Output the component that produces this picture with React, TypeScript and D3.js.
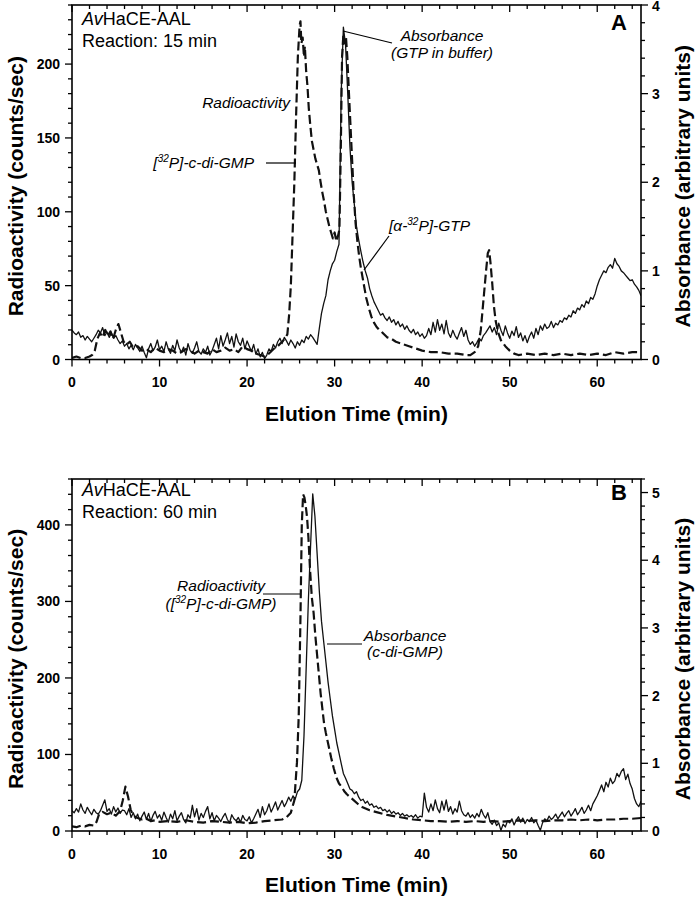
import React from 'react';
import * as d3 from 'd3';

const W = 696;
const H = 900;
const FONT = "'Liberation Sans', Arial, Helvetica, sans-serif";

const timeMajorTicks = [0, 10, 20, 30, 40, 50, 60];
const radioTicksA = [0, 50, 100, 150, 200];
const absTicksA = [0, 1, 2, 3, 4];
const radioTicksB = [0, 100, 200, 300, 400];
const absTicksB = [0, 1, 2, 3, 4, 5];

// Absorbance, panel A (right axis), sampled every 0.25 min from 0 to 65
const absStep = 0.25;
const absA = [
  .33, .30, .28, .31, .25, .27, .22, .26, .23, .20, .24, .28, .33, .30, .36, .27, .31, .25, .30, .24,
  .27, .22, .18, .21, .15, .18, .12, .16, .11, .17, .13, .09, .15, .08, .02, .12, .18, .10, .14, .22,
  .11, .15, .09, .20, .12, .07, .16, .10, .22, .13, .08, .14, .05, .18, .10, .07, .13, .20, .09, .06,
  .12, .08, .15, .05, .10, .17, .24, .12, .27, .15, .22, .30, .18, .26, .14, .29, .20, .16, .24, .12,
  .21, .15, .09, .17, .06, .12, .03, .08, .01, .05, .12, .09, .17, .13, .20, .24, .18, .25, .21, .16,
  .22, .18, .13, .20, .16, .22, .19, .26, .23, .28, .25, .21, .17, .35, .52, .63, .72, .90, 1.00, 1.08,
  1.12, 1.22, 1.30, 3.0, 3.75, 3.55, 3.0, 2.4, 2.0, 1.75, 1.5, 1.35, 1.22, 1.10, 1.00, .92, .80, .72, .65, .60,
  .55, .50, .52, .47, .44, .48, .42, .45, .39, .43, .37, .40, .34, .38, .33, .30, .34, .28, .31, .26,
  .29, .24, .27, .35, .28, .42, .31, .45, .33, .40, .29, .44, .30, .25, .33, .27, .23, .30, .36, .26,
  .33, .22, .17, .20, .15, .19, .24, .21, .27, .30, .34, .38, .31, .36, .28, .41, .33, .27, .38, .30,
  .24, .32, .27, .37, .25, .30, .21, .27, .19, .26, .31, .24, .35, .28, .38, .33, .40, .35, .37, .43,
  .36, .41, .39, .44, .42, .47, .45, .50, .48, .55, .52, .58, .56, .62, .59, .66, .63, .70, .68, .74,
  .83, .90, .95, 1.00, .98, 1.04, 1.07, 1.03, 1.14, 1.08, 1.05, 1.00, .98, .95, .92, .89, .90, .85, .82, .78,
  .72,
];

// Radioactivity, panel A (left axis)
const radioATime = [
  0, 0.5, 1, 1.5, 2, 2.3, 2.6, 2.9, 3.2, 3.5, 3.8, 4.1, 4.4, 4.7, 5.0, 5.3, 5.6, 5.9, 6.2, 6.6,
  7, 7.5, 8, 8.5, 9, 9.5, 10, 10.5, 11, 11.5, 12, 12.5, 13, 13.5, 14, 14.5, 15, 15.5, 16, 16.5,
  17, 17.5, 18, 18.5, 19, 19.5, 20, 20.5, 21, 21.5, 22, 22.5, 23, 23.5, 24, 24.3, 24.6, 24.8, 25.0, 25.2,
  25.4, 25.6, 25.8, 26.0, 26.1, 26.2, 26.35, 26.5, 26.6, 26.75, 26.9, 27.05, 27.2, 27.4, 27.6, 27.8, 28.0, 28.2, 28.4, 28.6,
  28.8, 29.0, 29.2, 29.4, 29.6, 29.8, 30.0, 30.2, 30.4, 30.55, 30.7, 30.85, 31.0, 31.15, 31.3, 31.45, 31.6, 31.8, 32.0, 32.2,
  32.4, 32.6, 32.8, 33.0, 33.3, 33.6, 33.9, 34.2, 34.5, 34.8, 35.1, 35.5, 36, 36.5, 37, 37.5, 38, 38.5, 39, 39.5,
  40, 41, 42, 43, 44, 45, 45.5, 46, 46.4, 46.7, 47.0, 47.3, 47.5, 47.65, 47.8, 48.0, 48.2, 48.4, 48.7, 49,
  49.5, 50, 50.5, 51, 52, 53, 54, 55, 56, 57, 58, 59, 60, 61, 62, 63, 64, 65,
];
const radioAValue = [
  1, 2, 1, 1, 2, 3, 6, 14, 18, 15, 20, 16, 19, 14, 20, 24, 18, 12, 10, 12,
  8, 9, 6, 7, 5, 8, 6, 5, 7, 6, 4, 5, 7, 6, 4, 6, 5, 4, 7, 5,
  6, 8, 6, 7, 5, 9, 7, 6, 4, 3, 2, 4, 7, 9, 12, 14, 17, 30, 50, 85,
  120, 165, 205, 226, 229, 214, 218, 205, 212, 195, 185, 170, 160, 148, 142, 136, 132, 128, 120, 113,
  107, 100, 95, 90, 86, 82, 86, 80, 84, 88, 140, 205, 220, 214, 218, 205, 185, 160, 135, 110,
  92, 80, 70, 62, 52, 42, 35, 29, 25, 22, 20, 18, 15, 14, 12, 11, 10, 9, 8, 7,
  6, 5, 5, 4, 4, 3, 3, 5, 9, 20, 40, 60, 72, 74, 66, 52, 36, 26, 18, 13,
  9, 6, 4, 3, 4, 3, 4, 3, 4, 3, 4, 3, 4, 3, 5, 4, 5, 5,
];

// Absorbance, panel B (right axis), every 0.25 min
const absB = [
  .30, .27, .33, .28, .40, .31, .26, .35, .29, .24, .32, .27, .25, .30, .38, .46, .29, .33, .25, .36,
  .28, .34, .26, .31, .30, .24, .33, .20, .27, .18, .25, .15, .22, .28, .17, .26, .14, .23, .29, .19,
  .24, .16, .28, .20, .13, .25, .18, .30, .15, .22, .27, .17, .12, .24, .19, .38, .21, .33, .16, .26,
  .20, .29, .36, .18, .27, .15, .23, .19, .14, .21, .26, .17, .12, .24, .18, .15, .20, .13, .23, .17,
  .15, .21, .12, .18, .25, .32, .20, .36, .24, .30, .40, .28, .35, .43, .31, .38, .45, .36, .42, .50,
  .44, .52, .47, .58, .62, .75, 1.4, 2.4, 3.4, 4.2, 4.98, 4.65, 4.1, 3.55, 3.1, 2.8, 2.5, 2.2, 1.95, 1.7,
  1.5, 1.3, 1.15, 1.0, .85, .78, .70, .62, .60, .55, .58, .50, .45, .47, .41, .44, .38, .40, .35, .37,
  .33, .35, .30, .32, .28, .31, .26, .29, .25, .27, .23, .26, .22, .24, .21, .23, .20, .24, .19, .22,
  .21, .56, .35, .28, .40, .30, .46, .33, .27, .44, .31, .46, .29, .36, .25, .33, .28, .44, .30, .24,
  .22, .27, .20, .24, .19, .26, .21, .32, .24, .19, .27, .14, .10, .16, .08, .12, .01, .10, .06, .15,
  .12, .18, .09, .16, .21, .13, .19, .11, .17, .14, .20, .12, .16, .08, .01, .12, .18, .15, .22, .17,
  .20, .25, .18, .23, .28, .21, .26, .30, .22, .27, .33, .24, .29, .35, .26, .31, .38, .30, .40, .46,
  .52, .60, .68, .58, .72, .65, .78, .70, .74, .85, .80, .88, .92, .76, .84, .70, .62, .48, .40, .36,
  .44,
];

// Radioactivity, panel B (left axis)
const radioBTime = [
  0, 0.5, 1, 1.5, 2, 2.5, 2.8, 3.1, 3.5, 4, 4.5, 5, 5.5, 5.8, 6.1, 6.4, 6.7, 7, 7.5, 8,
  8.5, 9, 9.5, 10, 11, 12, 13, 14, 15, 16, 17, 18, 19, 20, 21, 22, 23, 24, 24.5, 25,
  25.4, 25.7, 25.9, 26.1, 26.25, 26.4, 26.55, 26.7, 26.85, 27.0, 27.2, 27.4, 27.6, 27.8, 28.0, 28.2, 28.4, 28.6, 28.8, 29.0,
  29.3, 29.6, 29.9, 30.2, 30.5, 30.8, 31.1, 31.4, 31.8, 32.2, 32.7, 33.2, 34, 35, 36, 37, 38, 39, 40, 41,
  42, 43, 44, 45, 46, 47, 48, 49, 50, 51, 52, 53, 54, 55, 56, 57, 58, 59, 60, 61,
  62, 63, 64, 65,
];
const radioBValue = [
  6, 5, 7, 6, 8, 7, 12, 22, 25, 22, 24, 20, 26, 40, 58, 45, 28, 20, 17, 15,
  16, 13, 14, 12, 13, 12, 14, 12, 11, 13, 12, 11, 12, 10, 11, 13, 14, 15, 18, 24,
  40, 90, 150, 280, 400, 440, 436, 425, 410, 385, 340, 305, 285, 255, 230, 205, 180, 160, 140, 128,
  112, 96, 82, 70, 62, 58, 52, 48, 44, 40, 35, 31, 27, 24, 21, 19, 17, 15, 14, 13,
  13, 12, 13, 12, 13, 12, 13, 12, 13, 14, 13, 14, 13, 14, 14, 15, 14, 15, 14, 15,
  15, 16, 16, 17,
];

const X0 = 72;
const X1 = 641;

type Cfg = {
  id: string;
  top: number;
  bottom: number;
  leftMax: number;
  leftMinor: number;
  rightMax: number;
  leftTicks: number[];
  rightTicks: number[];
  abs: number[];
  radT: number[];
  radV: number[];
  tickY: number;
  titleY: number;
};

function Panel({ cfg, children }: { cfg: Cfg; children?: React.ReactNode }) {
  const x = d3.scaleLinear().domain([0, 65]).range([X0, X1]);
  const yl = d3.scaleLinear().domain([0, cfg.leftMax]).range([cfg.bottom, cfg.top]);
  const yr = d3.scaleLinear().domain([0, cfg.rightMax]).range([cfg.bottom, cfg.top]);
  const absLine = d3
    .line<number>()
    .x((_, i) => x(i * absStep))
    .y((d) => yr(d));
  const radPts = cfg.radT.map((t, i) => [t, cfg.radV[i]] as [number, number]);
  const radLine = d3
    .line<[number, number]>()
    .x((d) => x(d[0]))
    .y((d) => yl(d[1]));
  const xMinor = d3.range(0, 65.001, 2);
  const lMinor = d3.range(0, cfg.leftMax + 0.001, cfg.leftMinor);
  const rMinor = d3.range(0, cfg.rightMax + 0.001, 0.2);
  const midY = (cfg.top + cfg.bottom) / 2;
  const clipId = 'clip' + cfg.id;
  return (
    <g>
      <defs>
        <clipPath id={clipId}>
          <rect x={X0} y={cfg.top - 2} width={X1 - X0} height={cfg.bottom - cfg.top + 2} />
        </clipPath>
      </defs>
      <g clipPath={`url(#${clipId})`}>
        <path d={absLine(cfg.abs) || ''} fill="none" stroke="#111" strokeWidth={1.3} strokeLinejoin="round" />
        <path
          d={radLine(radPts) || ''}
          fill="none"
          stroke="#111"
          strokeWidth={2.2}
          strokeDasharray="9,4"
          strokeLinejoin="round"
        />
      </g>
      <rect x={X0} y={cfg.top} width={X1 - X0} height={cfg.bottom - cfg.top} fill="none" stroke="#000" strokeWidth={1.6} />
      {xMinor.map((t) => {
        const major = t % 10 === 0;
        const len = major ? 7 : 4;
        return (
          <g key={'xt' + t}>
            <line x1={x(t)} x2={x(t)} y1={cfg.bottom} y2={cfg.bottom + len} stroke="#000" strokeWidth={1.3} />
            <line x1={x(t)} x2={x(t)} y1={cfg.top} y2={cfg.top + len} stroke="#000" strokeWidth={1.3} />
          </g>
        );
      })}
      {timeMajorTicks.map((t) => (
        <text key={'xl' + t} x={x(t)} y={cfg.tickY} textAnchor="middle" fontSize={14} fontWeight="bold" fontFamily={FONT}>
          {t}
        </text>
      ))}
      <text x={(X0 + X1) / 2} y={cfg.titleY} textAnchor="middle" fontSize={21} fontWeight="bold" fontFamily={FONT}>
        Elution Time (min)
      </text>
      {lMinor.map((v) => {
        const major = cfg.leftTicks.includes(Math.round(v));
        return (
          <line key={'lt' + v} x1={X0 - (major ? 7 : 4)} x2={X0} y1={yl(v)} y2={yl(v)} stroke="#000" strokeWidth={1.3} />
        );
      })}
      {cfg.leftTicks.map((v) => (
        <text key={'ll' + v} x={X0 - 12} y={yl(v) + 5} textAnchor="end" fontSize={14} fontWeight="bold" fontFamily={FONT}>
          {v}
        </text>
      ))}
      <text
        transform={`translate(23,${midY + 4}) rotate(-90)`}
        textAnchor="middle"
        fontSize={21}
        fontWeight="bold"
        fontFamily={FONT}
      >
        Radioactivity (counts/sec)
      </text>
      {rMinor.map((v) => {
        const major = Math.abs(v - Math.round(v)) < 1e-6;
        return (
          <line key={'rt' + v} x1={X1} x2={X1 + (major ? 7 : 4)} y1={yr(v)} y2={yr(v)} stroke="#000" strokeWidth={1.3} />
        );
      })}
      {cfg.rightTicks.map((v) => (
        <text
          key={'rl' + v}
          x={X1 + 11}
          y={Math.max(yr(v) + 5, 11)}
          textAnchor="start"
          fontSize={14}
          fontWeight="bold"
          fontFamily={FONT}
        >
          {v}
        </text>
      ))}
      <text
        transform={`translate(690,${midY + 4}) rotate(-90)`}
        textAnchor="middle"
        fontSize={21}
        fontWeight="bold"
        fontFamily={FONT}
      >
        Absorbance (arbitrary units)
      </text>
      {children}
    </g>
  );
}

const cfgA: Cfg = {
  id: 'A',
  top: 5,
  bottom: 359.5,
  leftMax: 240,
  leftMinor: 10,
  rightMax: 4,
  leftTicks: radioTicksA,
  rightTicks: absTicksA,
  abs: absA,
  radT: radioATime,
  radV: radioAValue,
  tickY: 387,
  titleY: 421,
};

const cfgB: Cfg = {
  id: 'B',
  top: 479,
  bottom: 831,
  leftMax: 460,
  leftMinor: 20,
  rightMax: 5.2,
  leftTicks: radioTicksB,
  rightTicks: absTicksB,
  abs: absB,
  radT: radioBTime,
  radV: radioBValue,
  tickY: 859,
  titleY: 892,
};

const ann = { fontFamily: FONT, fontSize: 15.5, fontStyle: 'italic' as const };
const hdr = { fontFamily: FONT, fontSize: 18 };

export default function App() {
  return (
    <svg
      width={W}
      height={H}
      viewBox={`0 0 ${W} ${H}`}
      style={{ position: 'absolute', left: 0, top: 0, background: '#fff' }}
    >
      <rect x={0} y={0} width={W} height={H} fill="#fff" />
      <Panel cfg={cfgA}>
        <text x={82} y={25} {...hdr}>
          <tspan fontStyle="italic">Av</tspan>HaCE-AAL
        </text>
        <text x={82} y={47} {...hdr}>
          Reaction: 15 min
        </text>
        <text x={619} y={30} textAnchor="middle" fontFamily={FONT} fontSize={22} fontWeight="bold">
          A
        </text>
        <line x1={343} y1={31} x2={392} y2={43} stroke="#000" strokeWidth={1.2} />
        <text x={442} y={41} textAnchor="middle" {...ann}>
          Absorbance
        </text>
        <text x={442} y={58} textAnchor="middle" {...ann}>
          (GTP in buffer)
        </text>
        <text x={290} y={108} textAnchor="end" {...ann}>
          Radioactivity
        </text>
        <text x={254} y={168} textAnchor="end" {...ann}>
          <tspan>[</tspan>
          <tspan dy={-6} fontSize={10}>
            32
          </tspan>
          <tspan dy={6}>P]-c-di-GMP</tspan>
        </text>
        <line x1={266} y1={163} x2={296} y2={163} stroke="#000" strokeWidth={1.2} />
        <text x={389} y={231} {...ann}>
          <tspan>[α-</tspan>
          <tspan dy={-6} fontSize={10}>
            32
          </tspan>
          <tspan dy={6}>P]-GTP</tspan>
        </text>
        <line x1={389} y1={236} x2={364} y2={270} stroke="#000" strokeWidth={1.2} />
      </Panel>
      <Panel cfg={cfgB}>
        <text x={82} y={496} {...hdr}>
          <tspan fontStyle="italic">Av</tspan>HaCE-AAL
        </text>
        <text x={82} y={518} {...hdr}>
          Reaction: 60 min
        </text>
        <text x={619} y={500} textAnchor="middle" fontFamily={FONT} fontSize={22} fontWeight="bold">
          B
        </text>
        <text x={221} y={591} textAnchor="middle" {...ann}>
          Radioactivity
        </text>
        <line x1={263} y1={594} x2={300} y2={594} stroke="#000" strokeWidth={1.2} />
        <text x={221} y={609} textAnchor="middle" {...ann}>
          <tspan>([</tspan>
          <tspan dy={-6} fontSize={10}>
            32
          </tspan>
          <tspan dy={6}>P]-c-di-GMP)</tspan>
        </text>
        <text x={405} y={641} textAnchor="middle" {...ann}>
          Absorbance
        </text>
        <text x={405} y={657} textAnchor="middle" {...ann}>
          (c-di-GMP)
        </text>
        <line x1={327} y1={644} x2={362} y2={644} stroke="#000" strokeWidth={1.2} />
      </Panel>
    </svg>
  );
}
